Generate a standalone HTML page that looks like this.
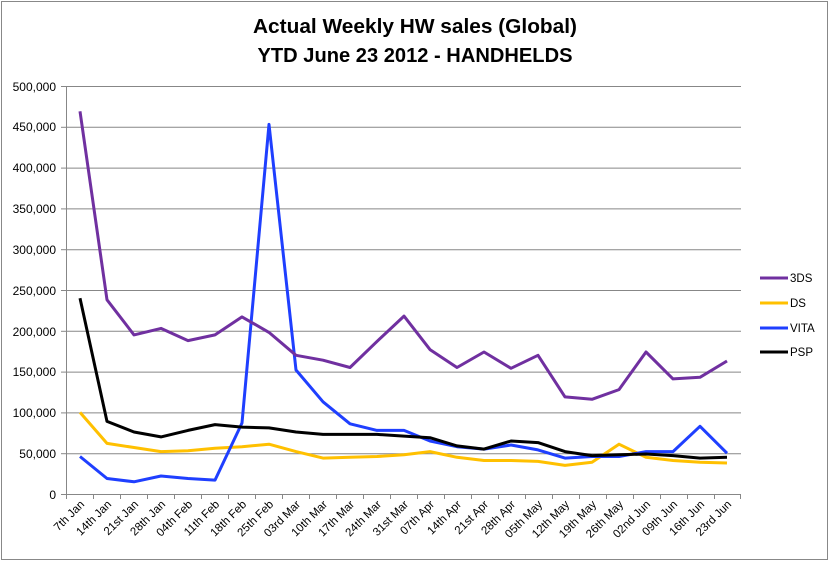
<!DOCTYPE html>
<html><head><meta charset="utf-8"><style>
body{margin:0;background:#fff}
svg text{font-family:"Liberation Sans",sans-serif}
</style></head><body>
<svg width="830" height="562" viewBox="0 0 830 562" xmlns="http://www.w3.org/2000/svg">
<rect x="1.5" y="1.5" width="826" height="558" fill="#fff" stroke="#888" stroke-width="1"/>
<text x="415" y="33" text-anchor="middle" font-size="20" font-weight="bold" textLength="324" lengthAdjust="spacingAndGlyphs">Actual Weekly HW sales (Global)</text>
<text x="415" y="62" text-anchor="middle" font-size="20" font-weight="bold" textLength="315" lengthAdjust="spacingAndGlyphs">YTD June 23 2012 - HANDHELDS</text>
<g stroke="#878787" stroke-width="1">
<line x1="66" y1="86.5" x2="741" y2="86.5"/><line x1="66" y1="127.3" x2="741" y2="127.3"/>
<line x1="66" y1="168.1" x2="741" y2="168.1"/><line x1="66" y1="208.9" x2="741" y2="208.9"/>
<line x1="66" y1="249.7" x2="741" y2="249.7"/><line x1="66" y1="290.5" x2="741" y2="290.5"/>
<line x1="66" y1="331.3" x2="741" y2="331.3"/><line x1="66" y1="372.1" x2="741" y2="372.1"/>
<line x1="66" y1="412.9" x2="741" y2="412.9"/><line x1="66" y1="453.7" x2="741" y2="453.7"/>
<line x1="66" y1="494.5" x2="741" y2="494.5"/>
<line x1="66.5" y1="86" x2="66.5" y2="499"/>
<line x1="61" y1="86.5" x2="66" y2="86.5"/><line x1="61" y1="127.3" x2="66" y2="127.3"/><line x1="61" y1="168.1" x2="66" y2="168.1"/><line x1="61" y1="208.9" x2="66" y2="208.9"/><line x1="61" y1="249.7" x2="66" y2="249.7"/><line x1="61" y1="290.5" x2="66" y2="290.5"/><line x1="61" y1="331.3" x2="66" y2="331.3"/><line x1="61" y1="372.1" x2="66" y2="372.1"/><line x1="61" y1="412.9" x2="66" y2="412.9"/><line x1="61" y1="453.7" x2="66" y2="453.7"/><line x1="61" y1="494.5" x2="66" y2="494.5"/>
<line x1="93.5" y1="494" x2="93.5" y2="499"/><line x1="120.5" y1="494" x2="120.5" y2="499"/><line x1="147.5" y1="494" x2="147.5" y2="499"/><line x1="174.5" y1="494" x2="174.5" y2="499"/><line x1="201.5" y1="494" x2="201.5" y2="499"/><line x1="228.5" y1="494" x2="228.5" y2="499"/><line x1="255.5" y1="494" x2="255.5" y2="499"/><line x1="282.5" y1="494" x2="282.5" y2="499"/><line x1="309.5" y1="494" x2="309.5" y2="499"/><line x1="336.5" y1="494" x2="336.5" y2="499"/><line x1="363.5" y1="494" x2="363.5" y2="499"/><line x1="390.5" y1="494" x2="390.5" y2="499"/><line x1="417.5" y1="494" x2="417.5" y2="499"/><line x1="444.5" y1="494" x2="444.5" y2="499"/><line x1="471.5" y1="494" x2="471.5" y2="499"/><line x1="498.5" y1="494" x2="498.5" y2="499"/><line x1="525.5" y1="494" x2="525.5" y2="499"/><line x1="552.5" y1="494" x2="552.5" y2="499"/><line x1="579.5" y1="494" x2="579.5" y2="499"/><line x1="606.5" y1="494" x2="606.5" y2="499"/><line x1="633.5" y1="494" x2="633.5" y2="499"/><line x1="660.5" y1="494" x2="660.5" y2="499"/><line x1="687.5" y1="494" x2="687.5" y2="499"/><line x1="714.5" y1="494" x2="714.5" y2="499"/><line x1="740.5" y1="494" x2="740.5" y2="499"/>
</g>
<g font-size="12" text-anchor="end" fill="#000">
<text x="56" y="91">500,000</text><text x="56" y="131">450,000</text><text x="56" y="172">400,000</text><text x="56" y="213">350,000</text><text x="56" y="254">300,000</text><text x="56" y="295">250,000</text><text x="56" y="336">200,000</text><text x="56" y="376">150,000</text><text x="56" y="417">100,000</text><text x="56" y="458">50,000</text><text x="56" y="499">0</text>
</g>
<g font-size="11.5" text-anchor="end" fill="#000">
<text transform="translate(85,505) rotate(-45)">7th Jan</text>
<text transform="translate(112,505) rotate(-45)">14th Jan</text>
<text transform="translate(139,505) rotate(-45)">21st Jan</text>
<text transform="translate(166,505) rotate(-45)">28th Jan</text>
<text transform="translate(193,505) rotate(-45)">04th Feb</text>
<text transform="translate(220,505) rotate(-45)">11th Feb</text>
<text transform="translate(247,505) rotate(-45)">18th Feb</text>
<text transform="translate(274,505) rotate(-45)">25th Feb</text>
<text transform="translate(301,505) rotate(-45)">03rd Mar</text>
<text transform="translate(328,505) rotate(-45)">10th Mar</text>
<text transform="translate(355,505) rotate(-45)">17th Mar</text>
<text transform="translate(382,505) rotate(-45)">24th Mar</text>
<text transform="translate(409,505) rotate(-45)">31st Mar</text>
<text transform="translate(435,505) rotate(-45)">07th Apr</text>
<text transform="translate(462,505) rotate(-45)">14th Apr</text>
<text transform="translate(489,505) rotate(-45)">21st Apr</text>
<text transform="translate(516,505) rotate(-45)">28th Apr</text>
<text transform="translate(543,505) rotate(-45)">05th May</text>
<text transform="translate(570,505) rotate(-45)">12th May</text>
<text transform="translate(597,505) rotate(-45)">19th May</text>
<text transform="translate(624,505) rotate(-45)">26th May</text>
<text transform="translate(651,505) rotate(-45)">02nd Jun</text>
<text transform="translate(678,505) rotate(-45)">09th Jun</text>
<text transform="translate(705,505) rotate(-45)">16th Jun</text>
<text transform="translate(732,505) rotate(-45)">23rd Jun</text>
</g>
<g fill="none" stroke-width="3" stroke-linejoin="round">
<polyline stroke="#FFC000" points="80,412.4 107,443.4 134,447.5 161,451.6 188,450.8 215,448.3 242,446.7 269,444.2 296,451.6 323,458.1 350,457.3 377,456.5 404,454.8 430,451.6 457,457.3 484,460.5 511,460.5 538,461.4 565,465.4 592,462.2 619,444.2 646,457.3 673,460.5 700,462.2 727,463"/>
<polyline stroke="#1F3FFF" points="80,456.5 107,478.5 134,481.8 161,476 188,478.5 215,480.1 242,423 269,124.4 296,370 323,401.8 350,423.8 377,430.4 404,430.4 430,441 457,446.7 484,449.1 511,445 538,449.9 565,458.1 592,456.5 619,456.5 646,451.6 673,451.6 700,426.3 727,453.2"/>
<polyline stroke="#000" points="80,298.2 107,421.4 134,432 161,436.9 188,430.4 215,424.6 242,427.1 269,427.9 296,432 323,434.4 350,434.4 377,434.4 404,436.1 430,437.7 457,445.9 484,449.1 511,441 538,442.6 565,451.6 592,455.6 619,454.8 646,454 673,455.6 700,458.1 727,457.3"/>
<polyline stroke="#7030A0" points="80,111.3 107,299.8 134,334.9 161,328.4 188,340.6 215,334.9 242,316.9 269,332.4 296,355.3 323,360.2 350,367.5 377,341.4 404,316.1 430,349.6 457,367.5 484,352 511,368.3 538,355.3 565,396.9 592,399.3 619,389.6 646,352 673,378.9 700,377.3 727,361"/>
</g>
<g stroke-width="3">
<line x1="760" y1="278" x2="788" y2="278" stroke="#7030A0"/>
<line x1="760" y1="303" x2="788" y2="303" stroke="#FFC000"/>
<line x1="760" y1="328" x2="788" y2="328" stroke="#1F3FFF"/>
<line x1="760" y1="352" x2="788" y2="352" stroke="#000"/>
</g>
<g font-size="11.5" fill="#000">
<text x="790" y="282">3DS</text><text x="790" y="307">DS</text><text x="790" y="332">VITA</text><text x="790" y="356">PSP</text>
</g>
</svg>
</body></html>
